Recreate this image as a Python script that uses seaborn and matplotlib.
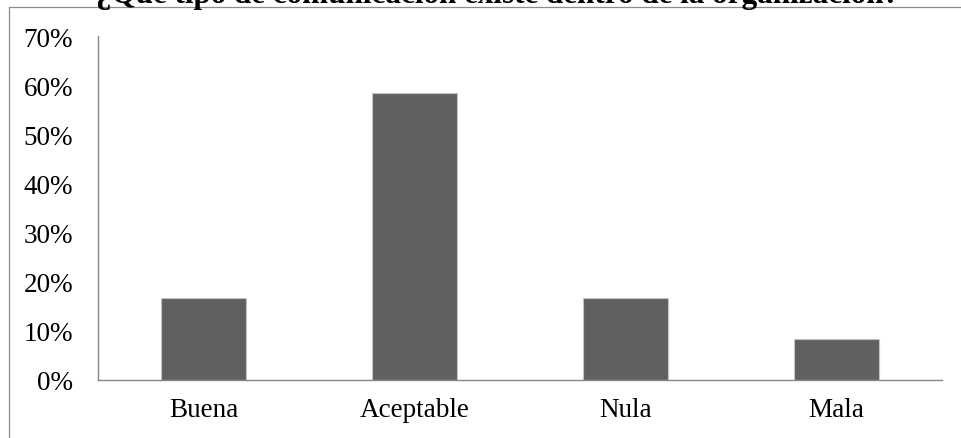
import matplotlib
matplotlib.use("Agg")
import matplotlib.pyplot as plt
from matplotlib.lines import Line2D
import seaborn as sns
import pandas as pd

# Survey answers: share of respondents per type of communication
categories = ["Buena", "Aceptable", "Nula", "Mala"]
shares = [0.1667, 0.5833, 0.1667, 0.0833]
y_ticks = [0.0, 0.1, 0.2, 0.3, 0.4, 0.5, 0.6, 0.7]
y_tick_labels = ["0%", "10%", "20%", "30%", "40%", "50%", "60%", "70%"]
title = "¿Qué tipo de comunicación existe dentro de la organización?"

sns.set_style("white")
plt.rcParams["font.family"] = ["Liberation Serif", "DejaVu Serif"]

W, H = 961, 439
fig = plt.figure(figsize=(W / 100, H / 100), dpi=100)
ax = fig.add_axes([98 / W, 58 / H, (942 - 98) / W, (381 - 37) / H])

df = pd.DataFrame({"cat": categories, "share": shares})
sns.barplot(data=df, x="cat", y="share", ax=ax, color="#606060",
            saturation=1, width=0.4, edgecolor="#c4c4c4", linewidth=0.8)

axis_grey = "#888888"
ax.set_xlim(-0.5, len(categories) - 0.5)
ax.set_ylim(0, 0.7)
ax.set_yticks(y_ticks)
ax.set_yticklabels(y_tick_labels)
ax.set_xlabel("")
ax.set_ylabel("")

# category separators as minor ticks on the x axis
ax.set_xticks([i - 0.5 for i in range(len(categories) + 1)], minor=True)
ax.tick_params(axis="x", which="major", length=0, pad=12, labelsize=19.5)
ax.tick_params(axis="x", which="minor", length=5, width=1.0,
               color=axis_grey, direction="out")
ax.tick_params(axis="y", length=5, width=1.0, color=axis_grey,
               direction="out", pad=13, labelsize=19.5)
ax.tick_params(which="both", labelcolor="black")

for side in ("top", "right"):
    ax.spines[side].set_visible(False)
for side in ("left", "bottom"):
    ax.spines[side].set_color(axis_grey)
    ax.spines[side].set_linewidth(1.0)

# chart-area frame
frame_kw = dict(color="#8c8c8c", linewidth=0.9, transform=fig.transFigure)
fig.add_artist(Line2D([9 / W, 1.02], [1 - 8 / H, 1 - 8 / H], **frame_kw))
fig.add_artist(Line2D([9 / W, 9 / W], [-0.02, 1 - 8 / H], **frame_kw))

fig.text(498 / W, 1 - 2.5 / H, title, ha="center", va="baseline",
         fontsize=22.4, fontweight="bold", color="black")

fig.savefig("out.png", dpi=100)
